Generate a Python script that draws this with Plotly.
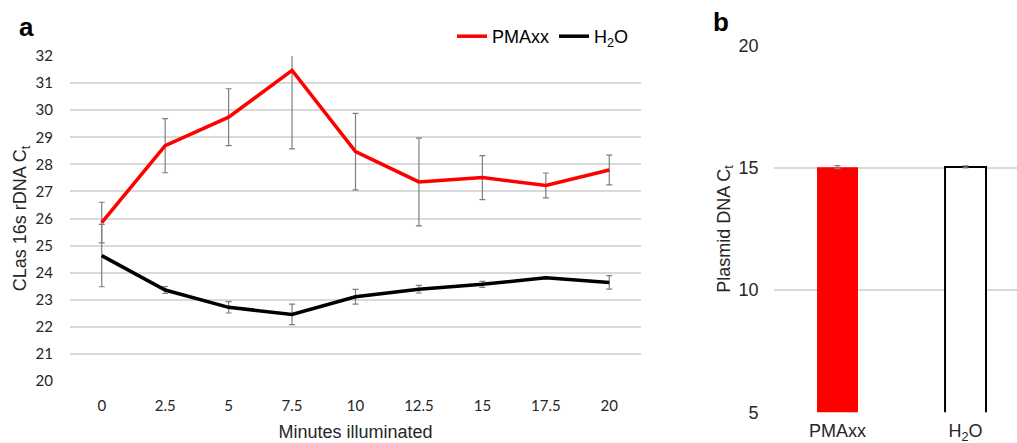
import plotly.graph_objects as go

minutes = ["0", "2.5", "5", "7.5", "10", "12.5", "15", "17.5", "20"]
pmaxx_ct = [25.85, 28.69, 29.74, 31.47, 28.47, 27.35, 27.51, 27.22, 27.79]
pmaxx_err = [0.75, 1.0, 1.05, 2.9, 1.41, 1.62, 0.81, 0.46, 0.55]
h2o_ct = [24.63, 23.36, 22.72, 22.46, 23.11, 23.39, 23.57, 23.81, 23.64]
h2o_err = [1.15, 0.13, 0.21, 0.38, 0.27, 0.14, 0.11, 0.03, 0.25]

plasmid_groups = ["PMAxx", "H<sub>2</sub>O"]
plasmid_ct = [15.03, 15.04]
plasmid_err = [0.06, 0.04]

W, H = 1017, 443
err_color = "#7f7f7f"
grid_color = "#d9d9d9"

fig = go.Figure()
fig.add_trace(go.Scatter(
    x=minutes, y=pmaxx_ct, mode="lines", name="PMAxx",
    line=dict(color="#ff0000", width=3.5),
    error_y=dict(type="data", array=pmaxx_err, color=err_color, thickness=1.2, width=3),
    xaxis="x", yaxis="y"))
fig.add_trace(go.Scatter(
    x=minutes, y=h2o_ct, mode="lines", name="H<sub>2</sub>O",
    line=dict(color="#000000", width=3.5),
    error_y=dict(type="data", array=h2o_err, color=err_color, thickness=1.2, width=3),
    xaxis="x", yaxis="y"))
fig.add_trace(go.Bar(
    x=plasmid_groups, y=plasmid_ct, showlegend=False, width=0.32,
    marker=dict(color=["#ff0000", "#ffffff"],
                line=dict(color=["#ff0000", "#000000"], width=[0, 2])),
    error_y=dict(type="data", array=plasmid_err, color=err_color, thickness=1.2, width=3),
    xaxis="x2", yaxis="y2"))

tick_a = dict(family="Lato, Carlito, sans-serif", size=15, color="#262626")
tick_b = dict(family="Liberation Sans, Arial, sans-serif", size=18, color="#262626")
title_font = dict(family="Liberation Sans, Arial, sans-serif", size=18, color="#262626")

fig.update_layout(
    width=W, height=H,
    margin=dict(l=0, r=0, t=0, b=0, autoexpand=False),
    paper_bgcolor="white", plot_bgcolor="white",
    xaxis=dict(domain=[70 / W, 641 / W], type="category", range=[-0.5, 8.5],
               showgrid=False, showline=False, zeroline=False, automargin=False,
               tickfont=tick_a, ticklabelstandoff=14,
               title=dict(text="Minutes illuminated", font=title_font, standoff=12)),
    yaxis=dict(domain=[(H - 381) / H, (H - 56) / H], range=[20, 32], dtick=1,
               showgrid=True, gridcolor=grid_color, gridwidth=1.5, zeroline=False,
               showline=False, automargin=False, tickfont=tick_a, ticklabelstandoff=16,
               title=dict(text="CLas 16s rDNA C<sub>t</sub>", font=title_font, standoff=4)),
    xaxis2=dict(domain=[773.5 / W, 1.0], type="category", range=[-0.5, 1.402],
                showgrid=False, showline=False, zeroline=False, automargin=False,
                tickfont=tick_b, ticklabelstandoff=6, anchor="y2"),
    yaxis2=dict(domain=[(H - 412.3) / H, (H - 45.7) / H], range=[5, 20], dtick=5,
                showgrid=True, gridcolor=grid_color, gridwidth=1.5, zeroline=False,
                showline=False, automargin=False, tickfont=tick_b, ticklabelstandoff=14,
                anchor="x2",
                title=dict(text="Plasmid DNA C<sub>t</sub>", font=title_font, standoff=3)),
    legend=dict(orientation="h", x=634 / W, xanchor="right", y=(H - 18) / H, yanchor="top",
                font=dict(family="Liberation Sans, Arial, sans-serif", size=18, color="#000000"),
                bgcolor="rgba(0,0,0,0)", itemwidth=30, tracegroupgap=0),
    showlegend=True,
    annotations=[
        dict(text="<b>a</b>", x=17 / W, y=(H - 27) / H, xref="paper", yref="paper",
             xanchor="left", yanchor="middle", showarrow=False,
             font=dict(family="Liberation Sans, Arial, sans-serif", size=26, color="#000000")),
        dict(text="<b>b</b>", x=711 / W, y=(H - 22) / H, xref="paper", yref="paper",
             xanchor="left", yanchor="middle", showarrow=False,
             font=dict(family="Liberation Sans, Arial, sans-serif", size=26, color="#000000")),
    ],
)

fig.write_html("out.html", config={"displayModeBar": False},
               post_script="document.body.style.margin='0';document.body.style.overflow='hidden';")
